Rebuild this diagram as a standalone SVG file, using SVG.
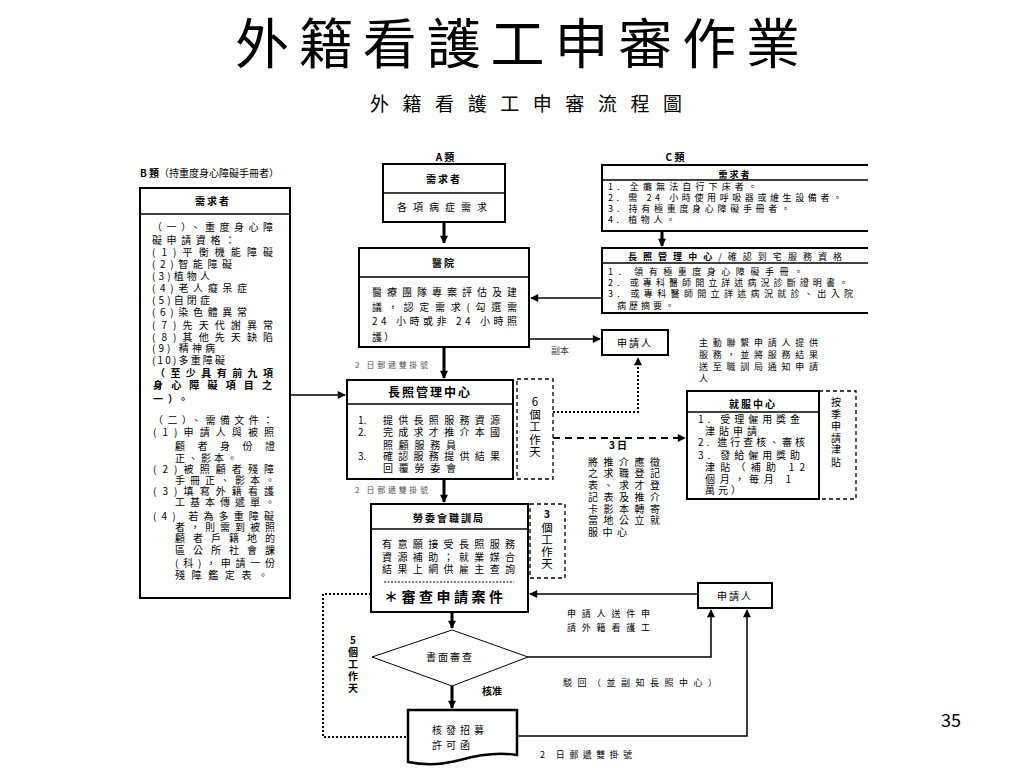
<svg xmlns="http://www.w3.org/2000/svg" width="1024" height="768" viewBox="0 0 1024 768">
<style>
text{font-family:"Noto Sans CJK TC","Noto Sans CJK SC",sans-serif;fill:#000}
.s{font-size:10px}
.xs{font-size:9px}
.b{font-weight:bold}
.g{font-size:8px;fill:#555}
.box{fill:#fff;stroke:#000;stroke-width:2}
.ln{fill:none;stroke:#000;stroke-width:1.5}
.thk{fill:none;stroke:#000;stroke-width:3}
.dsh{fill:none;stroke:#000;stroke-width:1.3;stroke-dasharray:4 3}
.dln{fill:none;stroke:#000;stroke-width:2;stroke-dasharray:7 5}
.dot{fill:none;stroke:#000;stroke-width:2;stroke-dasharray:2 2}
.thin{fill:none;stroke:#000;stroke-width:1}
.v{font-size:11.5px;text-anchor:middle}
</style>
<defs>
<marker id="ahs" viewBox="0 0 10 10" refX="9" refY="5" markerWidth="9" markerHeight="8" orient="auto" markerUnits="userSpaceOnUse"><path d="M0,0 L10,5 L0,10 Z" fill="#000"/></marker>
<clipPath id="clipC"><rect x="0" y="0" width="868" height="768"/></clipPath>
</defs>
<rect width="1024" height="768" fill="#fff"/>

<g id="title">
<text x="235" y="64" font-size="54" textLength="565" lengthAdjust="spacing">外籍看護工申審作業</text>
<text x="370" y="111" font-size="19" textLength="312" lengthAdjust="spacing">外籍看護工申審流程圖</text>
</g>

<g id="connectors">
<path class="thk" d="M444,222 V243" marker-end="url(#ahs)"/>
<path class="thk" d="M444,347 V378" marker-end="url(#ahs)"/>
<path class="thk" d="M444,479 V502" marker-end="url(#ahs)"/>
<path class="thk" d="M452,612 V628" marker-end="url(#ahs)"/>
<path class="thk" d="M452,686 V708" marker-end="url(#ahs)"/>
<path class="thk" d="M662,231 V246" marker-end="url(#ahs)"/>
<path class="ln" d="M290,395 H345" marker-end="url(#ahs)"/>
<path class="ln" d="M602,298 H531" marker-end="url(#ahs)"/>
<path class="ln" d="M529,339 H600" marker-end="url(#ahs)"/>
<path class="dot" d="M553,412 H638 V358" marker-end="url(#ahs)"/>
<path class="dln" d="M553,438 H685" marker-end="url(#ahs)"/>
<path class="ln" d="M698,594 H530" marker-end="url(#ahs)"/>
<path class="ln" d="M528,657 H711 V610" marker-end="url(#ahs)"/>
<path class="ln" d="M517,736 H747 V610" marker-end="url(#ahs)"/>
<path class="dot" d="M371,594 H323 V737 H408"/>
<text x="551" y="354" class="xs" style="fill:#444">副本</text>
<text x="355" y="368" class="g" textLength="73" lengthAdjust="spacing">2 日郵遞雙掛號</text>
<text x="355" y="493" class="g" textLength="73" lengthAdjust="spacing">2 日郵遞雙掛號</text>
<text x="540" y="758" class="xs" textLength="92" lengthAdjust="spacing">2 日郵遞雙掛號</text>
<text x="699" y="346" class="xs" textLength="119" lengthAdjust="spacing">主動聯繫申請人提供</text>
<text x="699" y="358" class="xs" textLength="119" lengthAdjust="spacing">服務，並將服務結果</text>
<text x="699" y="370" class="xs" textLength="119" lengthAdjust="spacing">送至職訓局通知申請</text>
<text x="699" y="382" class="xs">人</text>
<text x="618" y="449" class="s b" text-anchor="middle">3 日</text>
<text x="588" y="466" class="s" textLength="72" lengthAdjust="spacing">將推介應徵</text>
<text x="588" y="477" class="s" textLength="72" lengthAdjust="spacing">之求職登記</text>
<text x="588" y="489" class="s" textLength="72" lengthAdjust="spacing">表、求才登</text>
<text x="588" y="501" class="s" textLength="72" lengthAdjust="spacing">記表及推介</text>
<text x="588" y="513" class="s" textLength="72" lengthAdjust="spacing">卡影本轉寄</text>
<text x="588" y="524" class="s" textLength="72" lengthAdjust="spacing">當地公立就</text>
<text x="588" y="536" class="s" letter-spacing="4.5">服中心</text>
<text x="567" y="617" class="xs" textLength="83" lengthAdjust="spacing">申請人送件申</text>
<text x="567" y="631" class="xs" textLength="83" lengthAdjust="spacing">請外籍看護工</text>
<text x="563" y="686" class="xs" textLength="154" lengthAdjust="spacing">駁回（並副知長照中心）</text>
<text x="492" y="695" class="s b" text-anchor="middle">核准</text>
<g class="s b" text-anchor="middle">
<text x="353" y="644">5</text><text x="353" y="656">個</text><text x="353" y="668">工</text><text x="353" y="680">作</text><text x="353" y="692">天</text>
</g>
</g>

<g id="nodeB">
<text x="140" y="177" font-size="10"><tspan class="b">B 類</tspan>（持重度身心障礙手冊者）</text>
<rect class="box" x="140" y="188" width="150" height="410"/>
<line class="ln" x1="140" y1="214" x2="290" y2="214"/>
<text x="213" y="205" class="s b" text-anchor="middle" letter-spacing="2">需求者</text>
<g class="s">
<text x="152" y="231" textLength="121" lengthAdjust="spacing">（一）、重度身心障</text>
<text x="152" y="244" textLength="83" lengthAdjust="spacing">礙申請資格：</text>
<text x="152" y="256" textLength="121" lengthAdjust="spacing">(1)平衡機能障礙</text>
<text x="152" y="268" textLength="80" lengthAdjust="spacing">(2)智能障礙</text>
<text x="152" y="280" textLength="58" lengthAdjust="spacing">(3)植物人</text>
<text x="152" y="292" textLength="95" lengthAdjust="spacing">(4)老人癡呆症</text>
<text x="152" y="304" textLength="58" lengthAdjust="spacing">(5)自閉症</text>
<text x="152" y="316" textLength="95" lengthAdjust="spacing">(6)染色體異常</text>
<text x="152" y="329" textLength="121" lengthAdjust="spacing">(7)先天代謝異常</text>
<text x="152" y="341" textLength="121" lengthAdjust="spacing">(8)其他先天缺陷</text>
<text x="152" y="352" textLength="63" lengthAdjust="spacing">(9) 精神病</text>
<text x="152" y="364" textLength="73" lengthAdjust="spacing">(10)多重障礙</text>
<text x="155" y="377" class="b" textLength="118" lengthAdjust="spacing">（至少具有前九項</text>
<text x="153" y="389" class="b" textLength="119" lengthAdjust="spacing">身心障礙項目之</text>
<text x="153" y="403" class="b" textLength="35" lengthAdjust="spacing">一）。</text>
<text x="153" y="424" textLength="120" lengthAdjust="spacing">（二）、需備文件：</text>
<text x="153" y="436" textLength="121" lengthAdjust="spacing">(1)申請人與被照</text>
<text x="175" y="450" textLength="100" lengthAdjust="spacing">顧者身份證</text>
<text x="175" y="462" textLength="62" lengthAdjust="spacing">正、影本。</text>
<text x="153" y="473" textLength="121" lengthAdjust="spacing">(2)被照顧者殘障</text>
<text x="175" y="484" textLength="100" lengthAdjust="spacing">手冊正、影本。</text>
<text x="153" y="495" textLength="121" lengthAdjust="spacing">(3)填寫外籍看護</text>
<text x="175" y="506" textLength="100" lengthAdjust="spacing">工基本傳遞單。</text>
<text x="153" y="520" textLength="121" lengthAdjust="spacing">(4) 若為多重障礙</text>
<text x="175" y="531" textLength="100" lengthAdjust="spacing">者，則需到被照</text>
<text x="175" y="542" textLength="100" lengthAdjust="spacing">顧者戶籍地的</text>
<text x="175" y="554" textLength="100" lengthAdjust="spacing">區公所社會課</text>
<text x="175" y="567" textLength="100" lengthAdjust="spacing">(科)，申請一份</text>
<text x="175" y="579" textLength="93" lengthAdjust="spacing">殘障鑑定表。</text>
</g>
</g>

<g id="nodeA">
<text x="445" y="161" class="s b" text-anchor="middle">A 類</text>
<rect class="box" x="383" y="164" width="122" height="58"/>
<line class="ln" x1="383" y1="193" x2="505" y2="193"/>
<text x="444" y="183" class="s b" text-anchor="middle" letter-spacing="2">需求者</text>
<text x="397" y="211" class="s" textLength="90" lengthAdjust="spacing">各項病症需求</text>
</g>

<g id="nodeHospital">
<rect class="box" x="359" y="248" width="170" height="99"/>
<line class="ln" x1="359" y1="277" x2="529" y2="277"/>
<text x="444" y="267" class="s b" text-anchor="middle" letter-spacing="2">醫院</text>
<g class="s">
<text x="372" y="296" textLength="145" lengthAdjust="spacing">醫療團隊專案評估及建</text>
<text x="372" y="311" textLength="145" lengthAdjust="spacing">議，認定需求(勾選需</text>
<text x="372" y="325" textLength="145" lengthAdjust="spacing">24 小時或非 24 小時照</text>
<text x="372" y="341" letter-spacing="2">護）</text>
</g>
</g>

<g id="nodeLTC">
<rect class="box" x="347" y="380" width="166" height="99"/>
<line class="ln" x1="347" y1="404" x2="513" y2="404"/>
<text x="430" y="397" font-size="12" class="b" text-anchor="middle" letter-spacing="2">長照管理中心</text>
<g class="s">
<text x="358" y="424">1.</text><text x="383" y="424" textLength="117" lengthAdjust="spacing">提供長照服務資源</text>
<text x="358" y="436">2.</text><text x="383" y="436" textLength="117" lengthAdjust="spacing">完成求才推介本國</text>
<text x="383" y="449" textLength="73" lengthAdjust="spacing">照顧服務員</text>
<text x="358" y="460">3.</text><text x="383" y="460" textLength="117" lengthAdjust="spacing">確認服務提供結果</text>
<text x="383" y="472" textLength="73" lengthAdjust="spacing">回覆勞委會</text>
</g>
</g>

<g id="note6days">
<rect class="dsh" x="517" y="379" width="36" height="100"/>
<g class="v">
<text x="535" y="406">6</text><text x="535" y="419">個</text><text x="535" y="431">工</text><text x="535" y="444">作</text><text x="535" y="456">天</text>
</g>
</g>

<g id="nodeApplicant1">
<rect class="box" x="602" y="330" width="66" height="25"/>
<text x="635" y="347" class="s" text-anchor="middle" letter-spacing="2">申請人</text>
</g>

<g id="nodeC1" clip-path="url(#clipC)">
<text x="675" y="161" class="s b" text-anchor="middle">C 類</text>
<rect class="box" x="602" y="165" width="300" height="66"/>
<line class="ln" x1="602" y1="180" x2="902" y2="180"/>
<text x="735" y="178" class="xs b" text-anchor="middle" letter-spacing="2">需求者</text>
<g class="xs">
<text x="608" y="190" textLength="149" lengthAdjust="spacing">1. 全癱無法自行下床者。</text>
<text x="608" y="201" textLength="234" lengthAdjust="spacing">2. 需 24 小時使用呼吸器或維生設備者。</text>
<text x="608" y="212" textLength="182" lengthAdjust="spacing">3. 持有極重度身心障礙手冊者。</text>
<text x="608" y="223" textLength="67" lengthAdjust="spacing">4. 植物人。</text>
</g>
</g>

<g id="nodeC2" clip-path="url(#clipC)">
<rect class="box" x="602" y="248" width="300" height="65"/>
<line class="ln" x1="602" y1="263" x2="902" y2="263"/>
<text x="628" y="260" class="xs" textLength="214" lengthAdjust="spacing"><tspan class="b">長照管理中心</tspan>/確認到宅服務資格</text>
<g class="xs">
<text x="608" y="275" textLength="195" lengthAdjust="spacing">1. 領有極重度身心障礙手冊。</text>
<text x="608" y="286" textLength="240" lengthAdjust="spacing">2. 或專科醫師開立詳述病況診斷證明書。</text>
<text x="608" y="297" textLength="245" lengthAdjust="spacing">3. 或專科醫師開立詳述病況就診、出入院</text>
<text x="617" y="309" letter-spacing="3">病歷摘要。</text>
</g>
</g>

<g id="nodeEmployment">
<rect class="box" x="687" y="391" width="132" height="108"/>
<line class="ln" x1="687" y1="412" x2="819" y2="412"/>
<text x="753" y="408" class="s b" text-anchor="middle" letter-spacing="2">就服中心</text>
<g class="s">
<text x="698" y="423" textLength="102" lengthAdjust="spacing">1. 受理僱用獎金</text>
<text x="705" y="435" letter-spacing="4">津貼申請</text>
<text x="698" y="446" textLength="107" lengthAdjust="spacing">2. 進行查核、審核</text>
<text x="698" y="459" textLength="102" lengthAdjust="spacing">3. 發給僱用獎助</text>
<text x="705" y="471" textLength="100" lengthAdjust="spacing">津貼（補助 12</text>
<text x="705" y="483" textLength="86" lengthAdjust="spacing">個月，每月 1</text>
<text x="705" y="494" letter-spacing="3">萬元）</text>
</g>
</g>

<g id="noteQuarterly">
<rect class="dsh" x="819" y="391" width="37" height="108"/>
<g class="s" text-anchor="middle">
<text x="836" y="406">按</text><text x="836" y="418">季</text><text x="836" y="430">申</text><text x="836" y="442">請</text><text x="836" y="453">津</text><text x="836" y="466">貼</text>
</g>
</g>

<g id="nodeBureau">
<rect class="box" x="371" y="504" width="157" height="108"/>
<line class="ln" x1="371" y1="529" x2="528" y2="529"/>
<text x="449" y="522" class="s b" text-anchor="middle" letter-spacing="2">勞委會職訓局</text>
<g class="s">
<text x="382" y="548" textLength="133" lengthAdjust="spacing">有意願接受長照服務</text>
<text x="382" y="561" textLength="133" lengthAdjust="spacing">資源補助；就業媒合</text>
<text x="382" y="573" textLength="133" lengthAdjust="spacing">結果上網供雇主查詢</text>
</g>
<line x1="384" y1="582" x2="514" y2="582" stroke="#000" stroke-width="1.2" stroke-dasharray="2 1.5"/>
<text x="384" y="602" font-size="14" class="b" textLength="119" lengthAdjust="spacing">＊審查申請案件</text>
</g>

<g id="note3days">
<rect class="dsh" x="530" y="504" width="35" height="74"/>
<text x="547" y="518" font-size="10" class="b" text-anchor="middle">3</text>
<g class="v">
<text x="547" y="532">個</text><text x="547" y="544">工</text><text x="547" y="556">作</text><text x="547" y="568">天</text>
</g>
</g>

<g id="nodeApplicant2">
<rect class="box" x="698" y="583" width="74" height="25"/>
<text x="735" y="600" class="s" text-anchor="middle" letter-spacing="2">申請人</text>
</g>

<g id="nodeReview">
<polygon class="thin" points="452,630 528,657 452,686 372,657" fill="#fff"/>
<text x="450" y="661" class="s" text-anchor="middle" letter-spacing="2">書面審查</text>
</g>

<g id="nodePermit">
<path d="M408,710 H517 V755 C497,752 478,755 460,760 C442,765 423,765 408,762 Z" fill="#fff" stroke="#000" stroke-width="2.5"/>
<text x="432" y="734" class="s" letter-spacing="4">核發招募</text>
<text x="432" y="749" class="s" letter-spacing="4">許可函</text>
</g>

<text x="951" y="727" font-family="Liberation Sans, sans-serif" font-size="18" text-anchor="middle">35</text>
</svg>
